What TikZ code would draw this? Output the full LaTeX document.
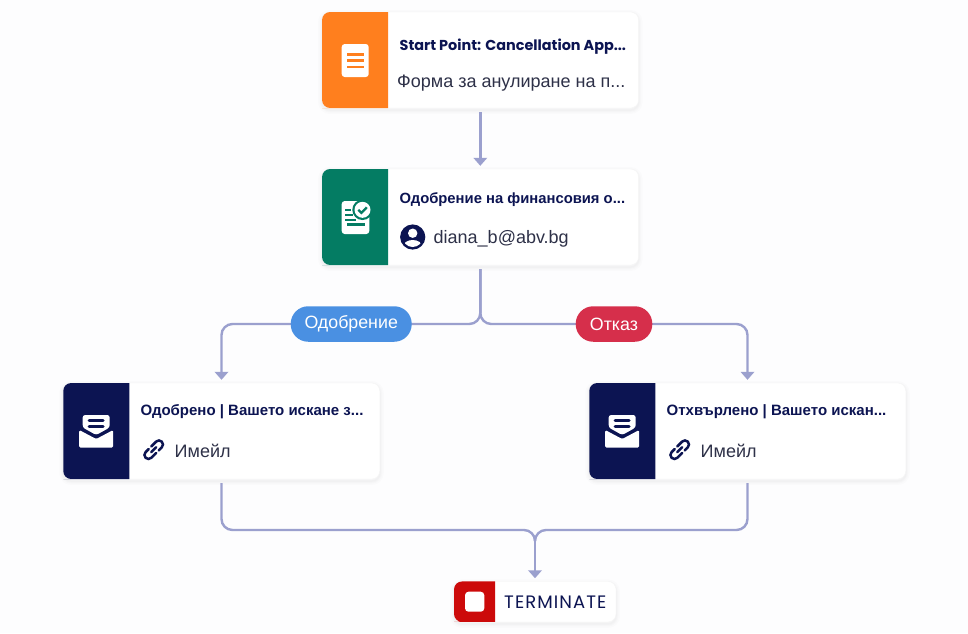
\documentclass[tikz,border=0pt]{standalone}
\usepackage{fontspec}
\setmainfont{Liberation Sans}
\newfontfamily\latinfont{Poppins}
\newfontfamily\spacedfont[LetterSpace=6]{Poppins}
\usetikzlibrary{arrows.meta}
\definecolor{bgc}{HTML}{FDFDFE}
\definecolor{navy}{HTML}{0C1452}
\definecolor{inktext}{HTML}{2E3148}
\definecolor{wire}{HTML}{9BA0CE}
\definecolor{orangeC}{HTML}{FF7F1E}
\definecolor{greenC}{HTML}{047C63}
\definecolor{redC}{HTML}{CC0A0A}
\definecolor{blueC}{HTML}{4A90E2}
\definecolor{roseC}{HTML}{D62F4B}
\tikzset{
  x=1pt,y=-1pt,
  softshadow/.style={preaction={draw=black,line width=#1,draw opacity=.012,fill=none,transform canvas={yshift=-2pt}}},
  cardbox/.style={rectangle,rounded corners=8pt,fill=white,inner sep=0pt,outer sep=0pt,
    softshadow=8pt,softshadow=5pt,softshadow=3pt,softshadow=1.5pt,
    draw=black!4,line width=.4pt},
  flow/.style={rectangle,minimum width=316.5pt,minimum height=96pt},
  titletext/.style={anchor=base west,inner sep=0pt,text=navy,font=\fontsize{15}{17}\selectfont\bfseries},
  subtext/.style={anchor=base west,inner sep=0pt,text=inktext,font=\fontsize{18}{21}\selectfont},
  pill/.style={rectangle,rounded corners=17.5pt,text=white,inner sep=0pt,minimum height=35.5pt,font=\fontsize{17.8}{20}\selectfont},
  wireline/.style={draw=wire,line width=2.4pt,rounded corners=11pt},
  arrowline/.style={wireline,-{Triangle[width=13.5pt,length=8pt]},shorten >=3.2pt},
}
\newcommand{\panel}[3]{% card name, colour, width
  \fill[#2,rounded corners=8pt] (#1.north west) -- (#1.south west) -- ([xshift=8pt]#1.south west)
    [sharp corners] -- ([xshift=#3]#1.south west) -- ([xshift=#3]#1.north west) -- ([xshift=8pt]#1.north west) [rounded corners=8pt] -- cycle;}
\newcommand{\mailicon}[2]{%
  \begin{scope}[shift={(#1,#2)}]
    \fill[white,rounded corners=2.5pt] (-13.5,-16) -- (13.5,-16) -- (13.5,-3.5) -- (0,4) -- (-13.5,-3.5) -- cycle;
    \draw[navy,line width=3pt,line cap=round] (-7,-10.3) -- (7,-10.3);
    \draw[navy,line width=3pt,line cap=round] (-7,-4.5) -- (7,-4.5);
    \fill[white,rounded corners=1.5pt] (-17,-1) -- (0,8) -- (17,-1) -- (17,16.7) -- (-17,16.7) -- cycle;
  \end{scope}}
\newcommand{\linkicon}[2]{%
  \begin{scope}[shift={(#1,#2)},rotate=45]
    \draw[navy,line width=2.5pt,line cap=round,rounded corners=3.9pt]
      (-0.5,4) -- (-11.4,4) -- (-11.4,-4) -- (-3,-4);
    \draw[navy,line width=2.5pt,line cap=round,rounded corners=3.9pt]
      (0.5,-4) -- (11.4,-4) -- (11.4,4) -- (3,4);
    \draw[navy,line width=2.5pt,line cap=round] (-3.5,0) -- (3.5,0);
  \end{scope}}
\begin{document}
\begin{tikzpicture}
\useasboundingbox (0,0) rectangle (968,633);
\fill[bgc] (0,0) rectangle (968,633);

% cards
\node[cardbox,flow] (start) at (480.3,60) {};
\node[cardbox,flow] (review) at (480.3,217) {};
\node[cardbox,flow] (okmail) at (221.5,431) {};
\node[cardbox,flow] (nomail) at (747.5,431) {};
\node[cardbox,minimum width=162pt,minimum height=40.5pt] (stop) at (535,601.7) {};

% connectors
\coordinate (join1) at (480.3,324);
\coordinate (join2) at (535,530);
\coordinate (join3) at (535,541);
\draw[arrowline,shorten <=4pt] (start.south) -- (review.north);
\draw[arrowline,shorten <=4pt] (review.south) -- (join1) -| (okmail.north);
\draw[arrowline,shorten <=4pt] (review.south) -- (join1) -| (nomail.north);
\draw[wireline,shorten <=4pt] (okmail.south) |- (join2) -- (join3);
\draw[wireline,shorten <=4pt] (nomail.south) |- (join2) -- (join3);
\draw[arrowline] (join3) -- (stop.north);

% pills
\node[pill,fill=blueC,minimum width=121pt] (yes) at (351.2,324) {Одобрение};
\node[pill,fill=roseC,minimum width=76.6pt] (no) at (614,324) {Отказ};

% panels
\panel{start}{orangeC}{66pt}
\panel{review}{greenC}{66pt}
\panel{okmail}{navy}{66pt}
\panel{nomail}{navy}{66pt}
\panel{stop}{redC}{41pt}

% document icon
\fill[white,rounded corners=3pt] (341.7,44) rectangle (368.7,77);
\fill[orangeC] (346.7,53) rectangle (363.7,55.6);
\fill[orangeC] (346.7,59.3) rectangle (363.7,61.9);
\fill[orangeC] (346.7,65.5) rectangle (363.7,68.1);

% approval icon
\fill[white,rounded corners=3pt] (341.7,201) rectangle (369.3,234);
\fill[greenC] (362.5,209.8) circle[radius=10.2];
\fill[white] (362.5,209.8) circle[radius=8];
\draw[greenC,line width=2.3pt] (358.4,209.8) -- (361.4,212.8) -- (366.8,207.3);
\fill[greenC] (345,208.5) rectangle (351,210.5);
\fill[greenC] (345,213.5) rectangle (353,215.5);
\fill[greenC] (345,218.5) rectangle (356,220.5);
\fill[greenC] (347,223) rectangle (365,225.5);

% mail icons
\mailicon{96.2}{431}
\mailicon{622.2}{431}

% stop icon
\fill[white,rounded corners=3.5pt] (465,591.7) rectangle (484.3,611.7);

% user icon
\fill[navy] (412.7,237) circle[radius=12.6];
\fill[white] (412.7,233.2) circle[radius=4.7];
\begin{scope}
  \clip (412.7,237) circle[radius=10];
  \fill[white] (412.7,246.5) ellipse[x radius=9.5,y radius=6.5];
\end{scope}

% link icons
\linkicon{153.7}{449.7}
\linkicon{679.7}{449.7}

% texts
\node[titletext] (t1) at (399.5,50.5) {\latinfont\fontsize{14.4}{16}\selectfont Start Point: Cancellation App...};
\node[subtext] (s1) at (397,87) {Форма за анулиране на п...};
\node[titletext] (t2) at (399.5,203) {\fontsize{14.8}{17}\selectfont Одобрение на финансовия о...};
\node[subtext] (s2) at (433.5,243) {diana\_b@abv.bg};
\node[titletext] (t3) at (140.5,415.5) {Одобрено | Вашето искане з...};
\node[subtext] (s3) at (174.5,457) {Имейл};
\node[titletext] (t4) at (666.5,415.5) {Отхвърлено | Вашето искан...};
\node[subtext] (s4) at (700.5,457) {Имейл};
\node[subtext,text=navy] (s5) at (504,608.5) {\spacedfont\fontsize{18}{20}\selectfont TERMINATE};
\end{tikzpicture}
\end{document}
